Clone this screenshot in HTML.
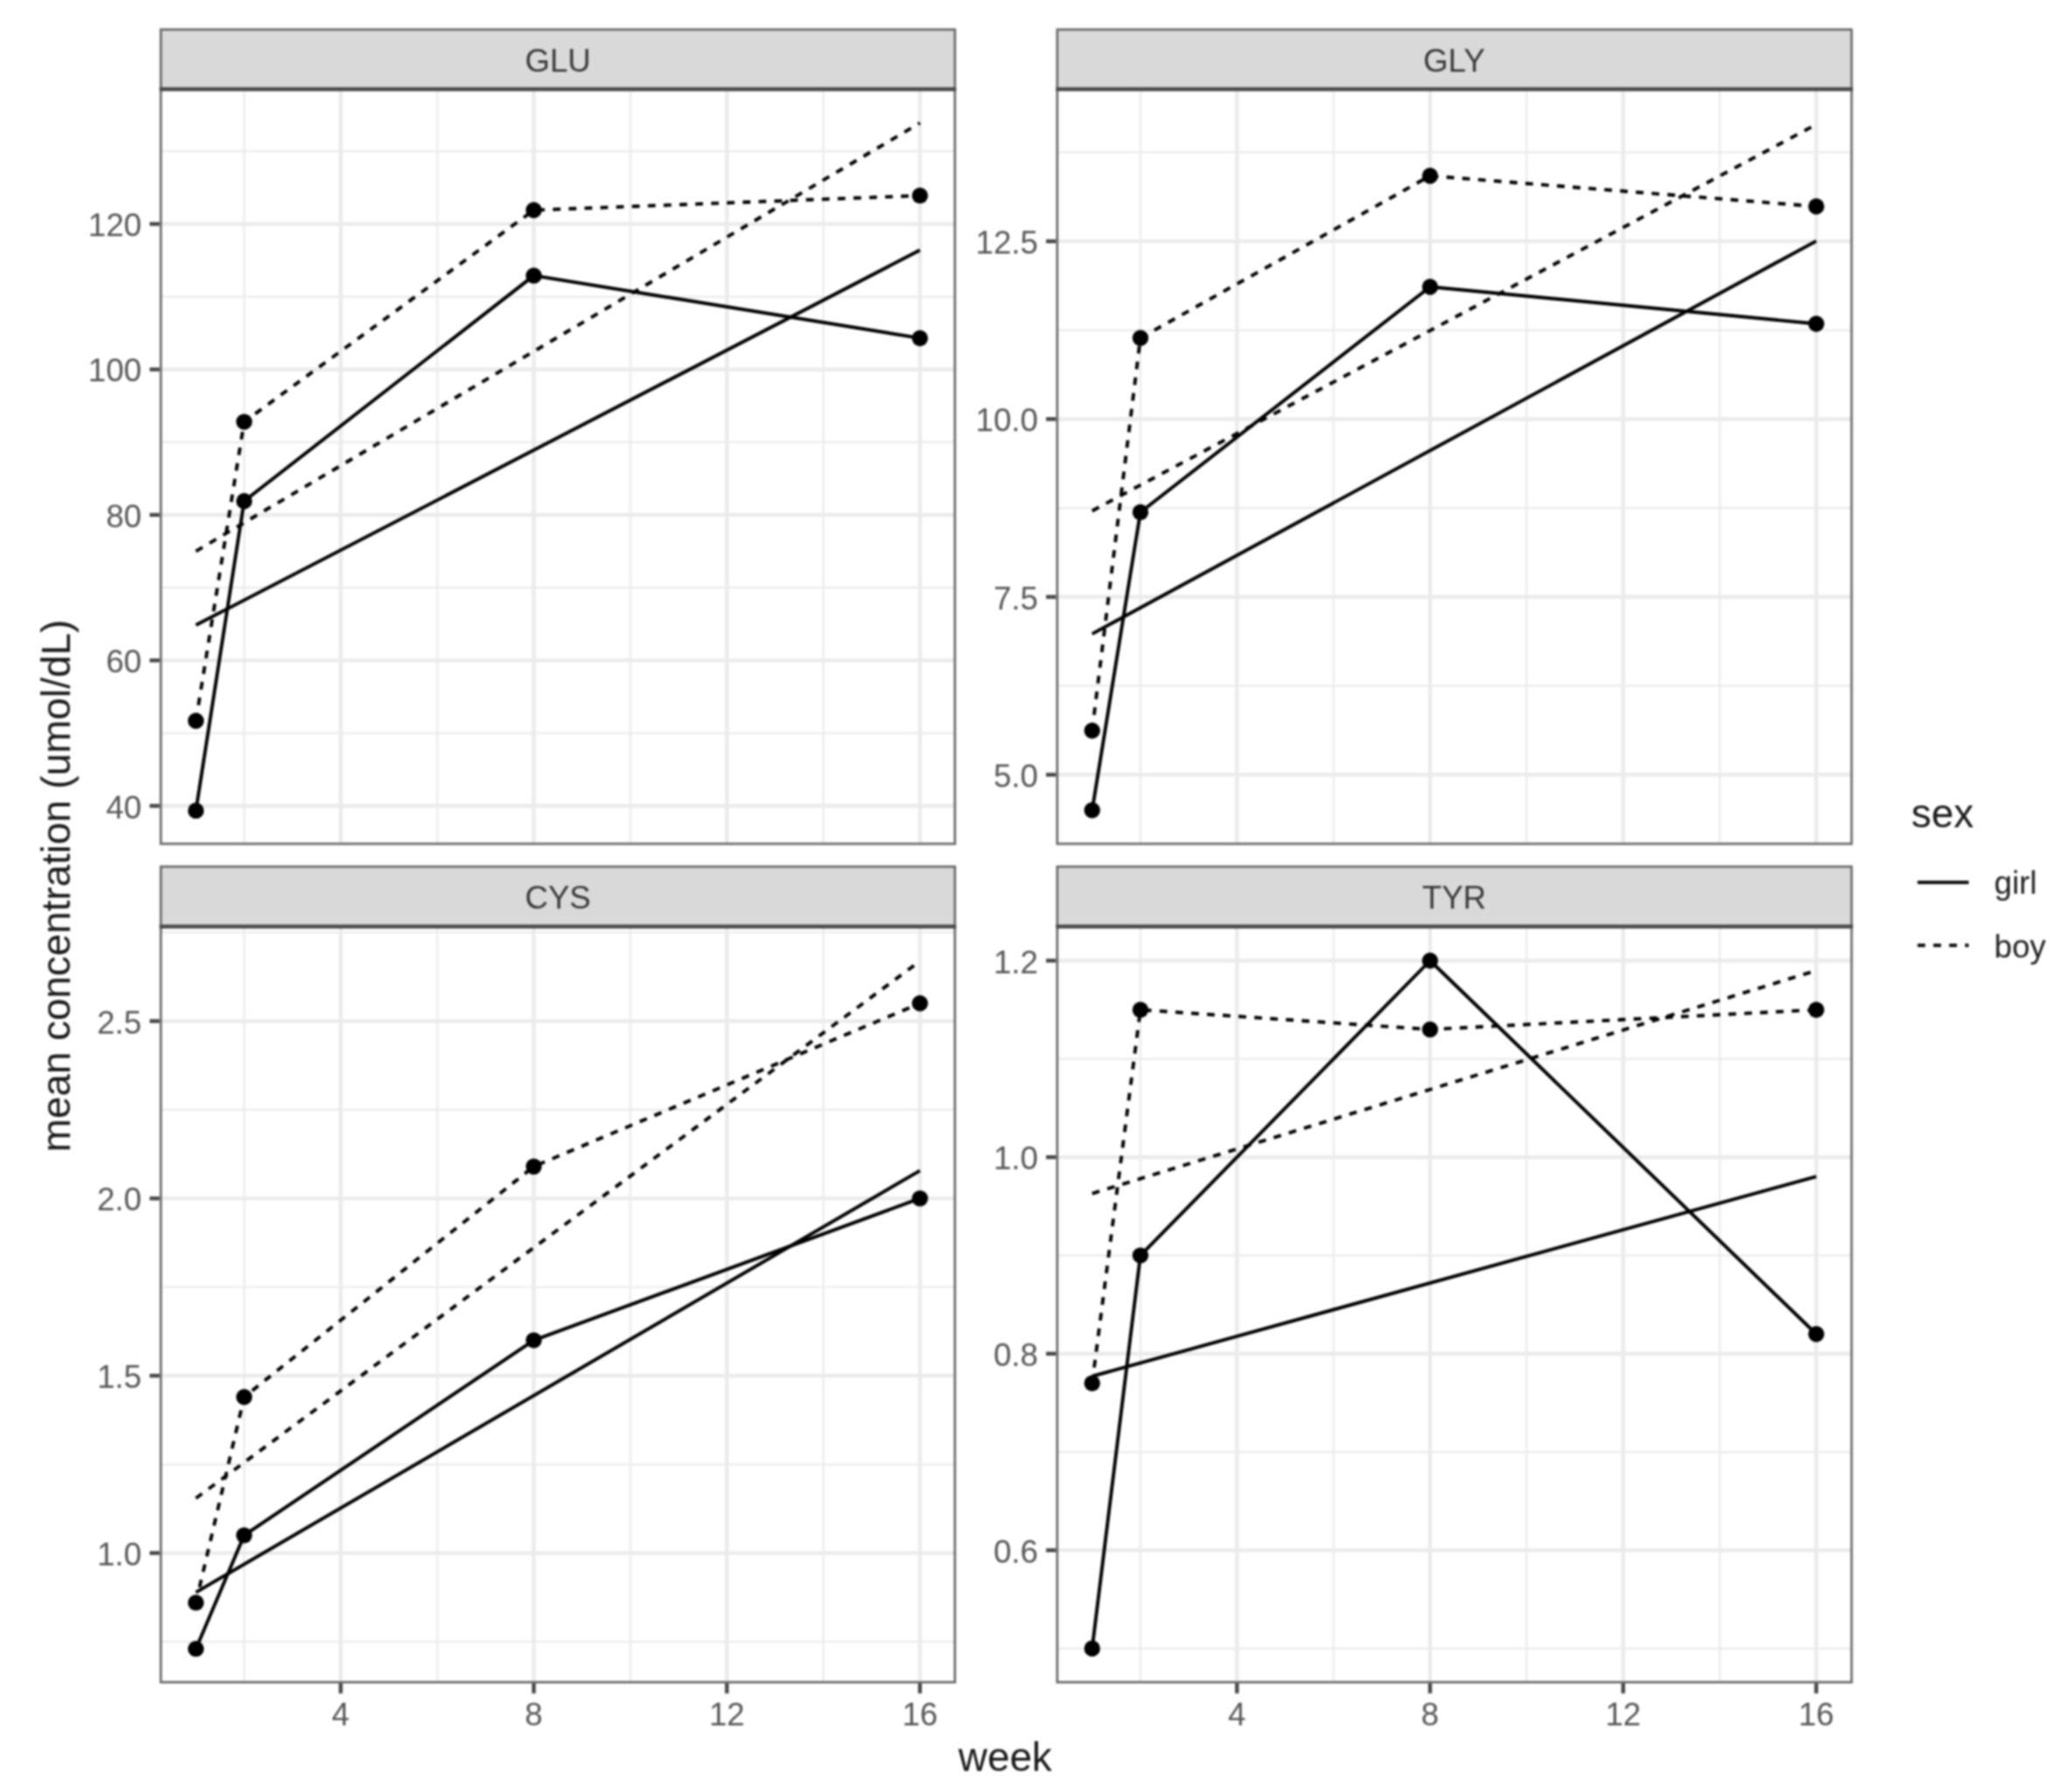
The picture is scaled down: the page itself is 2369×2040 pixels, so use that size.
<!DOCTYPE html>
<html lang="en"><head><meta charset="utf-8"><title>mean concentration by week</title>
<style>
html,body{margin:0;padding:0;background:#fff;}
body{width:2369px;height:2040px;overflow:hidden;}
svg{display:block;filter:blur(1.1px);}
</style>
</head><body>
<svg width="2369" height="2040" viewBox="0 0 2369 2040" font-family="'Liberation Sans', Arial, Helvetica, sans-serif">
<rect width="2369" height="2040" fill="#fff"/>
<defs>
<clipPath id="cpGLU"><rect x="182.55" y="102.0" width="910.60" height="864.25"/></clipPath>
<clipPath id="cpGLY"><rect x="1207.45" y="102.0" width="910.90" height="864.25"/></clipPath>
<clipPath id="cpCYS"><rect x="182.55" y="1059.5" width="910.60" height="865.45"/></clipPath>
<clipPath id="cpTYR"><rect x="1207.45" y="1059.5" width="910.90" height="865.45"/></clipPath>
</defs>
<g clip-path="url(#cpGLU)">
<line x1="183.9" x2="1091.8" y1="838.33" y2="838.33" stroke="#ebebeb" stroke-width="2.22"/>
<line x1="183.9" x2="1091.8" y1="671.98" y2="671.98" stroke="#ebebeb" stroke-width="2.22"/>
<line x1="183.9" x2="1091.8" y1="505.63" y2="505.63" stroke="#ebebeb" stroke-width="2.22"/>
<line x1="183.9" x2="1091.8" y1="339.28" y2="339.28" stroke="#ebebeb" stroke-width="2.22"/>
<line x1="183.9" x2="1091.8" y1="172.93" y2="172.93" stroke="#ebebeb" stroke-width="2.22"/>
<line y1="102.0" y2="964.9" x1="279.18" x2="279.18" stroke="#ebebeb" stroke-width="2.22"/>
<line y1="102.0" y2="964.9" x1="499.93" x2="499.93" stroke="#ebebeb" stroke-width="2.22"/>
<line y1="102.0" y2="964.9" x1="720.68" x2="720.68" stroke="#ebebeb" stroke-width="2.22"/>
<line y1="102.0" y2="964.9" x1="941.43" x2="941.43" stroke="#ebebeb" stroke-width="2.22"/>
<line x1="183.9" x2="1091.8" y1="921.50" y2="921.50" stroke="#ebebeb" stroke-width="4.44"/>
<line x1="183.9" x2="1091.8" y1="755.15" y2="755.15" stroke="#ebebeb" stroke-width="4.44"/>
<line x1="183.9" x2="1091.8" y1="588.80" y2="588.80" stroke="#ebebeb" stroke-width="4.44"/>
<line x1="183.9" x2="1091.8" y1="422.45" y2="422.45" stroke="#ebebeb" stroke-width="4.44"/>
<line x1="183.9" x2="1091.8" y1="256.10" y2="256.10" stroke="#ebebeb" stroke-width="4.44"/>
<line y1="102.0" y2="964.9" x1="389.55" x2="389.55" stroke="#ebebeb" stroke-width="4.44"/>
<line y1="102.0" y2="964.9" x1="610.31" x2="610.31" stroke="#ebebeb" stroke-width="4.44"/>
<line y1="102.0" y2="964.9" x1="831.06" x2="831.06" stroke="#ebebeb" stroke-width="4.44"/>
<line y1="102.0" y2="964.9" x1="1051.81" x2="1051.81" stroke="#ebebeb" stroke-width="4.44"/>
<polyline points="223.99,926.91 279.18,573.00 610.31,315.15 1051.81,386.68" fill="none" stroke="#000" stroke-width="3.9" stroke-linejoin="round"/>
<polyline points="223.99,824.19 279.18,482.34 610.31,240.30 1051.81,223.66" fill="none" stroke="#000" stroke-width="3.9" stroke-linejoin="round" stroke-dasharray="8.8 9.3"/>
<line x1="223.99" y1="714.81" x2="1051.81" y2="286.01" stroke="#000" stroke-width="3.9"/>
<line x1="223.99" y1="630.36" x2="1051.81" y2="140.60" stroke="#000" stroke-width="3.9" stroke-dasharray="8.8 9.3"/>
<circle cx="223.99" cy="926.91" r="9.2" fill="#000"/>
<circle cx="279.18" cy="573.00" r="9.2" fill="#000"/>
<circle cx="610.31" cy="315.15" r="9.2" fill="#000"/>
<circle cx="1051.81" cy="386.68" r="9.2" fill="#000"/>
<circle cx="223.99" cy="824.19" r="9.2" fill="#000"/>
<circle cx="279.18" cy="482.34" r="9.2" fill="#000"/>
<circle cx="610.31" cy="240.30" r="9.2" fill="#000"/>
<circle cx="1051.81" cy="223.66" r="9.2" fill="#000"/>
</g>
<rect x="183.90" y="33.80" width="907.90" height="68.20" fill="#d9d9d9" stroke="#6a6a6a" stroke-width="2.7"/>
<rect x="183.90" y="102.00" width="907.90" height="862.90" fill="none" stroke="#6a6a6a" stroke-width="2.7"/>
<line x1="182.55" x2="1093.15" y1="102.0" y2="102.0" stroke="#4a4a4a" stroke-width="4.44"/>
<text x="637.90" y="81.50" font-size="36.67" fill="#3a3a3a" text-anchor="middle">GLU</text>
<line x1="171.09" x2="182.55" y1="921.50" y2="921.50" stroke="#484848" stroke-width="4.44"/>
<text x="161.95" y="935.50" font-size="36.67" fill="#585858" text-anchor="end">40</text>
<line x1="171.09" x2="182.55" y1="755.15" y2="755.15" stroke="#484848" stroke-width="4.44"/>
<text x="161.95" y="769.15" font-size="36.67" fill="#585858" text-anchor="end">60</text>
<line x1="171.09" x2="182.55" y1="588.80" y2="588.80" stroke="#484848" stroke-width="4.44"/>
<text x="161.95" y="602.80" font-size="36.67" fill="#585858" text-anchor="end">80</text>
<line x1="171.09" x2="182.55" y1="422.45" y2="422.45" stroke="#484848" stroke-width="4.44"/>
<text x="161.95" y="436.45" font-size="36.67" fill="#585858" text-anchor="end">100</text>
<line x1="171.09" x2="182.55" y1="256.10" y2="256.10" stroke="#484848" stroke-width="4.44"/>
<text x="161.95" y="270.10" font-size="36.67" fill="#585858" text-anchor="end">120</text>
<g clip-path="url(#cpGLY)">
<line x1="1208.8" x2="2117.0" y1="784.23" y2="784.23" stroke="#ebebeb" stroke-width="2.22"/>
<line x1="1208.8" x2="2117.0" y1="580.90" y2="580.90" stroke="#ebebeb" stroke-width="2.22"/>
<line x1="1208.8" x2="2117.0" y1="377.57" y2="377.57" stroke="#ebebeb" stroke-width="2.22"/>
<line x1="1208.8" x2="2117.0" y1="174.23" y2="174.23" stroke="#ebebeb" stroke-width="2.22"/>
<line y1="102.0" y2="964.9" x1="1303.89" x2="1303.89" stroke="#ebebeb" stroke-width="2.22"/>
<line y1="102.0" y2="964.9" x1="1524.67" x2="1524.67" stroke="#ebebeb" stroke-width="2.22"/>
<line y1="102.0" y2="964.9" x1="1745.44" x2="1745.44" stroke="#ebebeb" stroke-width="2.22"/>
<line y1="102.0" y2="964.9" x1="1966.22" x2="1966.22" stroke="#ebebeb" stroke-width="2.22"/>
<line x1="1208.8" x2="2117.0" y1="885.90" y2="885.90" stroke="#ebebeb" stroke-width="4.44"/>
<line x1="1208.8" x2="2117.0" y1="682.57" y2="682.57" stroke="#ebebeb" stroke-width="4.44"/>
<line x1="1208.8" x2="2117.0" y1="479.23" y2="479.23" stroke="#ebebeb" stroke-width="4.44"/>
<line x1="1208.8" x2="2117.0" y1="275.90" y2="275.90" stroke="#ebebeb" stroke-width="4.44"/>
<line y1="102.0" y2="964.9" x1="1414.28" x2="1414.28" stroke="#ebebeb" stroke-width="4.44"/>
<line y1="102.0" y2="964.9" x1="1635.05" x2="1635.05" stroke="#ebebeb" stroke-width="4.44"/>
<line y1="102.0" y2="964.9" x1="1855.83" x2="1855.83" stroke="#ebebeb" stroke-width="4.44"/>
<line y1="102.0" y2="964.9" x1="2076.60" x2="2076.60" stroke="#ebebeb" stroke-width="4.44"/>
<polyline points="1248.70,926.57 1303.89,585.78 1635.05,327.95 2076.60,370.25" fill="none" stroke="#000" stroke-width="3.9" stroke-linejoin="round"/>
<polyline points="1248.70,835.47 1303.89,386.51 1635.05,201.07 2076.60,236.05" fill="none" stroke="#000" stroke-width="3.9" stroke-linejoin="round" stroke-dasharray="8.8 9.3"/>
<line x1="1248.70" y1="724.85" x2="2076.60" y2="275.59" stroke="#000" stroke-width="3.9"/>
<line x1="1248.70" y1="584.16" x2="2076.60" y2="142.29" stroke="#000" stroke-width="3.9" stroke-dasharray="8.8 9.3"/>
<circle cx="1248.70" cy="926.57" r="9.2" fill="#000"/>
<circle cx="1303.89" cy="585.78" r="9.2" fill="#000"/>
<circle cx="1635.05" cy="327.95" r="9.2" fill="#000"/>
<circle cx="2076.60" cy="370.25" r="9.2" fill="#000"/>
<circle cx="1248.70" cy="835.47" r="9.2" fill="#000"/>
<circle cx="1303.89" cy="386.51" r="9.2" fill="#000"/>
<circle cx="1635.05" cy="201.07" r="9.2" fill="#000"/>
<circle cx="2076.60" cy="236.05" r="9.2" fill="#000"/>
</g>
<rect x="1208.80" y="33.80" width="908.20" height="68.20" fill="#d9d9d9" stroke="#6a6a6a" stroke-width="2.7"/>
<rect x="1208.80" y="102.00" width="908.20" height="862.90" fill="none" stroke="#6a6a6a" stroke-width="2.7"/>
<line x1="1207.45" x2="2118.35" y1="102.0" y2="102.0" stroke="#4a4a4a" stroke-width="4.44"/>
<text x="1662.65" y="81.50" font-size="36.67" fill="#3a3a3a" text-anchor="middle">GLY</text>
<line x1="1195.99" x2="1207.45" y1="885.90" y2="885.90" stroke="#484848" stroke-width="4.44"/>
<text x="1186.85" y="899.90" font-size="36.67" fill="#585858" text-anchor="end">5.0</text>
<line x1="1195.99" x2="1207.45" y1="682.57" y2="682.57" stroke="#484848" stroke-width="4.44"/>
<text x="1186.85" y="696.57" font-size="36.67" fill="#585858" text-anchor="end">7.5</text>
<line x1="1195.99" x2="1207.45" y1="479.23" y2="479.23" stroke="#484848" stroke-width="4.44"/>
<text x="1186.85" y="493.23" font-size="36.67" fill="#585858" text-anchor="end">10.0</text>
<line x1="1195.99" x2="1207.45" y1="275.90" y2="275.90" stroke="#484848" stroke-width="4.44"/>
<text x="1186.85" y="289.90" font-size="36.67" fill="#585858" text-anchor="end">12.5</text>
<g clip-path="url(#cpCYS)">
<line x1="183.9" x2="1091.8" y1="1877.28" y2="1877.28" stroke="#ebebeb" stroke-width="2.22"/>
<line x1="183.9" x2="1091.8" y1="1674.52" y2="1674.52" stroke="#ebebeb" stroke-width="2.22"/>
<line x1="183.9" x2="1091.8" y1="1471.75" y2="1471.75" stroke="#ebebeb" stroke-width="2.22"/>
<line x1="183.9" x2="1091.8" y1="1268.98" y2="1268.98" stroke="#ebebeb" stroke-width="2.22"/>
<line x1="183.9" x2="1091.8" y1="1066.22" y2="1066.22" stroke="#ebebeb" stroke-width="2.22"/>
<line y1="1059.5" y2="1923.6" x1="279.18" x2="279.18" stroke="#ebebeb" stroke-width="2.22"/>
<line y1="1059.5" y2="1923.6" x1="499.93" x2="499.93" stroke="#ebebeb" stroke-width="2.22"/>
<line y1="1059.5" y2="1923.6" x1="720.68" x2="720.68" stroke="#ebebeb" stroke-width="2.22"/>
<line y1="1059.5" y2="1923.6" x1="941.43" x2="941.43" stroke="#ebebeb" stroke-width="2.22"/>
<line x1="183.9" x2="1091.8" y1="1775.90" y2="1775.90" stroke="#ebebeb" stroke-width="4.44"/>
<line x1="183.9" x2="1091.8" y1="1573.13" y2="1573.13" stroke="#ebebeb" stroke-width="4.44"/>
<line x1="183.9" x2="1091.8" y1="1370.37" y2="1370.37" stroke="#ebebeb" stroke-width="4.44"/>
<line x1="183.9" x2="1091.8" y1="1167.60" y2="1167.60" stroke="#ebebeb" stroke-width="4.44"/>
<line y1="1059.5" y2="1923.6" x1="389.55" x2="389.55" stroke="#ebebeb" stroke-width="4.44"/>
<line y1="1059.5" y2="1923.6" x1="610.31" x2="610.31" stroke="#ebebeb" stroke-width="4.44"/>
<line y1="1059.5" y2="1923.6" x1="831.06" x2="831.06" stroke="#ebebeb" stroke-width="4.44"/>
<line y1="1059.5" y2="1923.6" x1="1051.81" x2="1051.81" stroke="#ebebeb" stroke-width="4.44"/>
<polyline points="223.99,1885.39 279.18,1755.62 610.31,1532.58 1051.81,1370.37" fill="none" stroke="#000" stroke-width="3.9" stroke-linejoin="round"/>
<polyline points="223.99,1832.67 279.18,1597.47 610.31,1333.87 1051.81,1147.32" fill="none" stroke="#000" stroke-width="3.9" stroke-linejoin="round" stroke-dasharray="8.8 9.3"/>
<line x1="223.99" y1="1820.82" x2="1051.81" y2="1338.66" stroke="#000" stroke-width="3.9"/>
<line x1="223.99" y1="1713.30" x2="1051.81" y2="1099.04" stroke="#000" stroke-width="3.9" stroke-dasharray="8.8 9.3"/>
<circle cx="223.99" cy="1885.39" r="9.2" fill="#000"/>
<circle cx="279.18" cy="1755.62" r="9.2" fill="#000"/>
<circle cx="610.31" cy="1532.58" r="9.2" fill="#000"/>
<circle cx="1051.81" cy="1370.37" r="9.2" fill="#000"/>
<circle cx="223.99" cy="1832.67" r="9.2" fill="#000"/>
<circle cx="279.18" cy="1597.47" r="9.2" fill="#000"/>
<circle cx="610.31" cy="1333.87" r="9.2" fill="#000"/>
<circle cx="1051.81" cy="1147.32" r="9.2" fill="#000"/>
</g>
<rect x="183.90" y="991.00" width="907.90" height="68.50" fill="#d9d9d9" stroke="#6a6a6a" stroke-width="2.7"/>
<rect x="183.90" y="1059.50" width="907.90" height="864.10" fill="none" stroke="#6a6a6a" stroke-width="2.7"/>
<line x1="182.55" x2="1093.15" y1="1059.5" y2="1059.5" stroke="#4a4a4a" stroke-width="4.44"/>
<text x="637.90" y="1038.85" font-size="36.67" fill="#3a3a3a" text-anchor="middle">CYS</text>
<line x1="171.09" x2="182.55" y1="1775.90" y2="1775.90" stroke="#484848" stroke-width="4.44"/>
<text x="161.95" y="1789.90" font-size="36.67" fill="#585858" text-anchor="end">1.0</text>
<line x1="171.09" x2="182.55" y1="1573.13" y2="1573.13" stroke="#484848" stroke-width="4.44"/>
<text x="161.95" y="1587.13" font-size="36.67" fill="#585858" text-anchor="end">1.5</text>
<line x1="171.09" x2="182.55" y1="1370.37" y2="1370.37" stroke="#484848" stroke-width="4.44"/>
<text x="161.95" y="1384.37" font-size="36.67" fill="#585858" text-anchor="end">2.0</text>
<line x1="171.09" x2="182.55" y1="1167.60" y2="1167.60" stroke="#484848" stroke-width="4.44"/>
<text x="161.95" y="1181.60" font-size="36.67" fill="#585858" text-anchor="end">2.5</text>
<line y1="1924.95" y2="1936.41" x1="389.55" x2="389.55" stroke="#484848" stroke-width="4.44"/>
<text x="389.55" y="1972.6" font-size="36.67" fill="#585858" text-anchor="middle">4</text>
<line y1="1924.95" y2="1936.41" x1="610.31" x2="610.31" stroke="#484848" stroke-width="4.44"/>
<text x="610.31" y="1972.6" font-size="36.67" fill="#585858" text-anchor="middle">8</text>
<line y1="1924.95" y2="1936.41" x1="831.06" x2="831.06" stroke="#484848" stroke-width="4.44"/>
<text x="831.06" y="1972.6" font-size="36.67" fill="#585858" text-anchor="middle">12</text>
<line y1="1924.95" y2="1936.41" x1="1051.81" x2="1051.81" stroke="#484848" stroke-width="4.44"/>
<text x="1051.81" y="1972.6" font-size="36.67" fill="#585858" text-anchor="middle">16</text>
<g clip-path="url(#cpTYR)">
<line x1="1208.8" x2="2117.0" y1="1885.07" y2="1885.07" stroke="#ebebeb" stroke-width="2.22"/>
<line x1="1208.8" x2="2117.0" y1="1660.33" y2="1660.33" stroke="#ebebeb" stroke-width="2.22"/>
<line x1="1208.8" x2="2117.0" y1="1435.60" y2="1435.60" stroke="#ebebeb" stroke-width="2.22"/>
<line x1="1208.8" x2="2117.0" y1="1210.87" y2="1210.87" stroke="#ebebeb" stroke-width="2.22"/>
<line y1="1059.5" y2="1923.6" x1="1303.89" x2="1303.89" stroke="#ebebeb" stroke-width="2.22"/>
<line y1="1059.5" y2="1923.6" x1="1524.67" x2="1524.67" stroke="#ebebeb" stroke-width="2.22"/>
<line y1="1059.5" y2="1923.6" x1="1745.44" x2="1745.44" stroke="#ebebeb" stroke-width="2.22"/>
<line y1="1059.5" y2="1923.6" x1="1966.22" x2="1966.22" stroke="#ebebeb" stroke-width="2.22"/>
<line x1="1208.8" x2="2117.0" y1="1772.70" y2="1772.70" stroke="#ebebeb" stroke-width="4.44"/>
<line x1="1208.8" x2="2117.0" y1="1547.97" y2="1547.97" stroke="#ebebeb" stroke-width="4.44"/>
<line x1="1208.8" x2="2117.0" y1="1323.23" y2="1323.23" stroke="#ebebeb" stroke-width="4.44"/>
<line x1="1208.8" x2="2117.0" y1="1098.50" y2="1098.50" stroke="#ebebeb" stroke-width="4.44"/>
<line y1="1059.5" y2="1923.6" x1="1414.28" x2="1414.28" stroke="#ebebeb" stroke-width="4.44"/>
<line y1="1059.5" y2="1923.6" x1="1635.05" x2="1635.05" stroke="#ebebeb" stroke-width="4.44"/>
<line y1="1059.5" y2="1923.6" x1="1855.83" x2="1855.83" stroke="#ebebeb" stroke-width="4.44"/>
<line y1="1059.5" y2="1923.6" x1="2076.60" x2="2076.60" stroke="#ebebeb" stroke-width="4.44"/>
<polyline points="1248.70,1885.07 1303.89,1435.60 1635.05,1098.50 2076.60,1525.49" fill="none" stroke="#000" stroke-width="3.9" stroke-linejoin="round"/>
<polyline points="1248.70,1581.68 1303.89,1154.68 1635.05,1177.16 2076.60,1154.68" fill="none" stroke="#000" stroke-width="3.9" stroke-linejoin="round" stroke-dasharray="8.8 9.3"/>
<line x1="1248.70" y1="1573.75" x2="2076.60" y2="1345.27" stroke="#000" stroke-width="3.9"/>
<line x1="1248.70" y1="1364.81" x2="2076.60" y2="1109.78" stroke="#000" stroke-width="3.9" stroke-dasharray="8.8 9.3"/>
<circle cx="1248.70" cy="1885.07" r="9.2" fill="#000"/>
<circle cx="1303.89" cy="1435.60" r="9.2" fill="#000"/>
<circle cx="1635.05" cy="1098.50" r="9.2" fill="#000"/>
<circle cx="2076.60" cy="1525.49" r="9.2" fill="#000"/>
<circle cx="1248.70" cy="1581.68" r="9.2" fill="#000"/>
<circle cx="1303.89" cy="1154.68" r="9.2" fill="#000"/>
<circle cx="1635.05" cy="1177.16" r="9.2" fill="#000"/>
<circle cx="2076.60" cy="1154.68" r="9.2" fill="#000"/>
</g>
<rect x="1208.80" y="991.00" width="908.20" height="68.50" fill="#d9d9d9" stroke="#6a6a6a" stroke-width="2.7"/>
<rect x="1208.80" y="1059.50" width="908.20" height="864.10" fill="none" stroke="#6a6a6a" stroke-width="2.7"/>
<line x1="1207.45" x2="2118.35" y1="1059.5" y2="1059.5" stroke="#4a4a4a" stroke-width="4.44"/>
<text x="1662.65" y="1038.85" font-size="36.67" fill="#3a3a3a" text-anchor="middle">TYR</text>
<line x1="1195.99" x2="1207.45" y1="1772.70" y2="1772.70" stroke="#484848" stroke-width="4.44"/>
<text x="1186.85" y="1786.70" font-size="36.67" fill="#585858" text-anchor="end">0.6</text>
<line x1="1195.99" x2="1207.45" y1="1547.97" y2="1547.97" stroke="#484848" stroke-width="4.44"/>
<text x="1186.85" y="1561.97" font-size="36.67" fill="#585858" text-anchor="end">0.8</text>
<line x1="1195.99" x2="1207.45" y1="1323.23" y2="1323.23" stroke="#484848" stroke-width="4.44"/>
<text x="1186.85" y="1337.23" font-size="36.67" fill="#585858" text-anchor="end">1.0</text>
<line x1="1195.99" x2="1207.45" y1="1098.50" y2="1098.50" stroke="#484848" stroke-width="4.44"/>
<text x="1186.85" y="1112.50" font-size="36.67" fill="#585858" text-anchor="end">1.2</text>
<line y1="1924.95" y2="1936.41" x1="1414.28" x2="1414.28" stroke="#484848" stroke-width="4.44"/>
<text x="1414.28" y="1972.6" font-size="36.67" fill="#585858" text-anchor="middle">4</text>
<line y1="1924.95" y2="1936.41" x1="1635.05" x2="1635.05" stroke="#484848" stroke-width="4.44"/>
<text x="1635.05" y="1972.6" font-size="36.67" fill="#585858" text-anchor="middle">8</text>
<line y1="1924.95" y2="1936.41" x1="1855.83" x2="1855.83" stroke="#484848" stroke-width="4.44"/>
<text x="1855.83" y="1972.6" font-size="36.67" fill="#585858" text-anchor="middle">12</text>
<line y1="1924.95" y2="1936.41" x1="2076.60" x2="2076.60" stroke="#484848" stroke-width="4.44"/>
<text x="2076.60" y="1972.6" font-size="36.67" fill="#585858" text-anchor="middle">16</text>
<text x="1149.3" y="2024.5" font-size="45.83" fill="#1a1a1a" text-anchor="middle">week</text>
<text transform="translate(80,1013) rotate(-90)" font-size="45.83" fill="#1a1a1a" text-anchor="middle">mean concentration (umol/dL)</text>
<text x="2185.3" y="946" font-size="45.83" fill="#1a1a1a">sex</text>
<line x1="2192.4" x2="2250.9" y1="1009" y2="1009" stroke="#111" stroke-width="3.9"/>
<line x1="2192.4" x2="2250.9" y1="1081" y2="1081" stroke="#111" stroke-width="3.9" stroke-dasharray="8.8 9.3"/>
<text x="2280" y="1022" font-size="36.67" fill="#222">girl</text>
<text x="2280" y="1094.5" font-size="36.67" fill="#222">boy</text>
</svg>
</body></html>
